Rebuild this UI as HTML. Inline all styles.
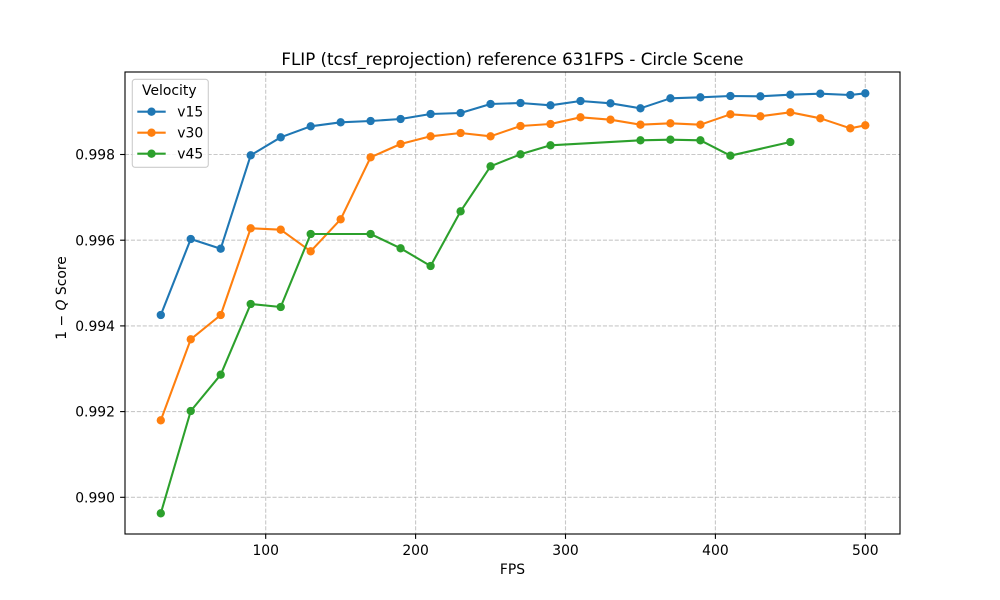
<!DOCTYPE html>
<html>
<head>
<meta charset="utf-8">
<style>
  html, body { margin: 0; padding: 0; background: #ffffff; }
  svg { display: block; }
  text { font-family: "DejaVu Sans", "Liberation Sans", sans-serif; fill: #000; }
</style>
</head>
<body>
<svg width="1000" height="600" viewBox="0 0 1000 600" xmlns="http://www.w3.org/2000/svg">
  <rect x="0" y="0" width="1000" height="600" fill="#ffffff"/>

  <!-- grid -->
  <g stroke="#b0b0b0" stroke-opacity="0.7" stroke-width="1.11" stroke-dasharray="4.1,1.8" fill="none">
    <line x1="265.7" y1="72" x2="265.7" y2="534"/>
    <line x1="415.6" y1="72" x2="415.6" y2="534"/>
    <line x1="565.5" y1="72" x2="565.5" y2="534"/>
    <line x1="715.4" y1="72" x2="715.4" y2="534"/>
    <line x1="865.3" y1="72" x2="865.3" y2="534"/>
    <line x1="125" y1="154.5" x2="900" y2="154.5"/>
    <line x1="125" y1="240.2" x2="900" y2="240.2"/>
    <line x1="125" y1="325.9" x2="900" y2="325.9"/>
    <line x1="125" y1="411.6" x2="900" y2="411.6"/>
    <line x1="125" y1="497.3" x2="900" y2="497.3"/>
  </g>

  <!-- v15 -->
  <polyline fill="none" stroke="#1f77b4" stroke-width="2.08" stroke-linejoin="round" stroke-linecap="square"
    points="160.8,315 190.75,239 220.7,248.7 250.7,155.3 280.7,137.3 310.7,126.3 340.65,122.3 370.6,121 400.6,119 430.6,114 460.6,113 490.55,104 520.5,103 550.5,105.3 580.5,101 610.5,103.3 640.45,108.3 670.4,98.3 700.4,97.3 730.4,96 760.4,96.3 790.35,94.7 820.3,93.7 850.3,95 865.3,93.3"/>
  <g fill="#1f77b4">
    <circle cx="160.8" cy="315" r="4.17"/><circle cx="190.75" cy="239" r="4.17"/><circle cx="220.7" cy="248.7" r="4.17"/>
    <circle cx="250.7" cy="155.3" r="4.17"/><circle cx="280.7" cy="137.3" r="4.17"/><circle cx="310.7" cy="126.3" r="4.17"/>
    <circle cx="340.65" cy="122.3" r="4.17"/><circle cx="370.6" cy="121" r="4.17"/><circle cx="400.6" cy="119" r="4.17"/>
    <circle cx="430.6" cy="114" r="4.17"/><circle cx="460.6" cy="113" r="4.17"/><circle cx="490.55" cy="104" r="4.17"/>
    <circle cx="520.5" cy="103" r="4.17"/><circle cx="550.5" cy="105.3" r="4.17"/><circle cx="580.5" cy="101" r="4.17"/>
    <circle cx="610.5" cy="103.3" r="4.17"/><circle cx="640.45" cy="108.3" r="4.17"/><circle cx="670.4" cy="98.3" r="4.17"/>
    <circle cx="700.4" cy="97.3" r="4.17"/><circle cx="730.4" cy="96" r="4.17"/><circle cx="760.4" cy="96.3" r="4.17"/>
    <circle cx="790.35" cy="94.7" r="4.17"/><circle cx="820.3" cy="93.7" r="4.17"/><circle cx="850.3" cy="95" r="4.17"/>
    <circle cx="865.3" cy="93.3" r="4.17"/>
  </g>

  <!-- v30 -->
  <polyline fill="none" stroke="#ff7f0e" stroke-width="2.08" stroke-linejoin="round" stroke-linecap="square"
    points="160.8,420.3 190.75,339.3 220.7,315 250.7,228.3 280.7,229.7 310.7,251.3 340.65,219.3 370.6,157.3 400.6,144 430.6,136.3 460.6,133 490.55,136.3 520.5,126 550.5,124 580.5,117.3 610.5,119.7 640.45,124.7 670.4,123.3 700.4,124.7 730.4,114.3 760.4,116.3 790.35,112.3 820.3,118.3 850.3,128.3 865.3,125.3"/>
  <g fill="#ff7f0e">
    <circle cx="160.8" cy="420.3" r="4.17"/><circle cx="190.75" cy="339.3" r="4.17"/><circle cx="220.7" cy="315" r="4.17"/>
    <circle cx="250.7" cy="228.3" r="4.17"/><circle cx="280.7" cy="229.7" r="4.17"/><circle cx="310.7" cy="251.3" r="4.17"/>
    <circle cx="340.65" cy="219.3" r="4.17"/><circle cx="370.6" cy="157.3" r="4.17"/><circle cx="400.6" cy="144" r="4.17"/>
    <circle cx="430.6" cy="136.3" r="4.17"/><circle cx="460.6" cy="133" r="4.17"/><circle cx="490.55" cy="136.3" r="4.17"/>
    <circle cx="520.5" cy="126" r="4.17"/><circle cx="550.5" cy="124" r="4.17"/><circle cx="580.5" cy="117.3" r="4.17"/>
    <circle cx="610.5" cy="119.7" r="4.17"/><circle cx="640.45" cy="124.7" r="4.17"/><circle cx="670.4" cy="123.3" r="4.17"/>
    <circle cx="700.4" cy="124.7" r="4.17"/><circle cx="730.4" cy="114.3" r="4.17"/><circle cx="760.4" cy="116.3" r="4.17"/>
    <circle cx="790.35" cy="112.3" r="4.17"/><circle cx="820.3" cy="118.3" r="4.17"/><circle cx="850.3" cy="128.3" r="4.17"/>
    <circle cx="865.3" cy="125.3" r="4.17"/>
  </g>

  <!-- v45 -->
  <polyline fill="none" stroke="#2ca02c" stroke-width="2.08" stroke-linejoin="round" stroke-linecap="square"
    points="160.8,513.3 190.75,411 220.7,374.7 250.7,304 280.7,307 310.7,234 370.6,234 400.6,248.3 430.6,266 460.6,211.3 490.55,166.3 520.5,154.3 550.5,145.3 640.45,140.3 670.4,139.7 700.4,140.3 730.4,155.7 790.35,142"/>
  <g fill="#2ca02c">
    <circle cx="160.8" cy="513.3" r="4.17"/><circle cx="190.75" cy="411" r="4.17"/><circle cx="220.7" cy="374.7" r="4.17"/>
    <circle cx="250.7" cy="304" r="4.17"/><circle cx="280.7" cy="307" r="4.17"/><circle cx="310.7" cy="234" r="4.17"/>
    <circle cx="370.6" cy="234" r="4.17"/><circle cx="400.6" cy="248.3" r="4.17"/><circle cx="430.6" cy="266" r="4.17"/>
    <circle cx="460.6" cy="211.3" r="4.17"/><circle cx="490.55" cy="166.3" r="4.17"/><circle cx="520.5" cy="154.3" r="4.17"/>
    <circle cx="550.5" cy="145.3" r="4.17"/><circle cx="640.45" cy="140.3" r="4.17"/><circle cx="670.4" cy="139.7" r="4.17"/>
    <circle cx="700.4" cy="140.3" r="4.17"/><circle cx="730.4" cy="155.7" r="4.17"/><circle cx="790.35" cy="142" r="4.17"/>
  </g>

  <!-- spines -->
  <rect x="125" y="72" width="775" height="462" fill="none" stroke="#000" stroke-width="1.11"/>

  <!-- ticks -->
  <g stroke="#000" stroke-width="1.11">
    <line x1="265.7" y1="534" x2="265.7" y2="538.9"/>
    <line x1="415.6" y1="534" x2="415.6" y2="538.9"/>
    <line x1="565.5" y1="534" x2="565.5" y2="538.9"/>
    <line x1="715.4" y1="534" x2="715.4" y2="538.9"/>
    <line x1="865.3" y1="534" x2="865.3" y2="538.9"/>
    <line x1="120.1" y1="154.5" x2="125" y2="154.5"/>
    <line x1="120.1" y1="240.2" x2="125" y2="240.2"/>
    <line x1="120.1" y1="325.9" x2="125" y2="325.9"/>
    <line x1="120.1" y1="411.6" x2="125" y2="411.6"/>
    <line x1="120.1" y1="497.3" x2="125" y2="497.3"/>
  </g>

  <!-- tick labels -->
  <g font-size="13.9" text-anchor="middle">
    <text x="265.7" y="555">100</text>
    <text x="415.6" y="555">200</text>
    <text x="565.5" y="555">300</text>
    <text x="715.4" y="555">400</text>
    <text x="865.3" y="555">500</text>
  </g>
  <g font-size="13.9" text-anchor="end">
    <text x="115" y="159.6">0.998</text>
    <text x="115" y="245.3">0.996</text>
    <text x="115" y="331">0.994</text>
    <text x="115" y="416.7">0.992</text>
    <text x="115" y="502.4">0.990</text>
  </g>

  <!-- axis labels -->
  <text x="512.5" y="574" font-size="13.9" text-anchor="middle">FPS</text>
  <text transform="translate(66,298) rotate(-90)" font-size="13.9" text-anchor="middle">1 − <tspan font-style="italic">Q</tspan> Score</text>

  <!-- title -->
  <text x="512.5" y="65" font-size="16.67" text-anchor="middle">FLIP (tcsf_reprojection) reference 631FPS - Circle Scene</text>

  <!-- legend -->
  <rect x="132.3" y="79.3" width="76" height="88" rx="2.8" ry="2.8" fill="#ffffff" fill-opacity="0.8" stroke="#cccccc" stroke-width="1.11"/>
  <text x="169.3" y="95" font-size="13.9" text-anchor="middle">Velocity</text>
  <line x1="137.3" y1="111.7" x2="165.7" y2="111.7" stroke="#1f77b4" stroke-width="2.08"/>
  <circle cx="151.5" cy="111.7" r="4.17" fill="#1f77b4"/>
  <text x="177.3" y="116.7" font-size="13.9">v15</text>
  <line x1="137.3" y1="132.7" x2="165.7" y2="132.7" stroke="#ff7f0e" stroke-width="2.08"/>
  <circle cx="151.5" cy="132.7" r="4.17" fill="#ff7f0e"/>
  <text x="177.3" y="137.7" font-size="13.9">v30</text>
  <line x1="137.3" y1="153.7" x2="165.7" y2="153.7" stroke="#2ca02c" stroke-width="2.08"/>
  <circle cx="151.5" cy="153.7" r="4.17" fill="#2ca02c"/>
  <text x="177.3" y="158.7" font-size="13.9">v45</text>
</svg>
</body>
</html>
